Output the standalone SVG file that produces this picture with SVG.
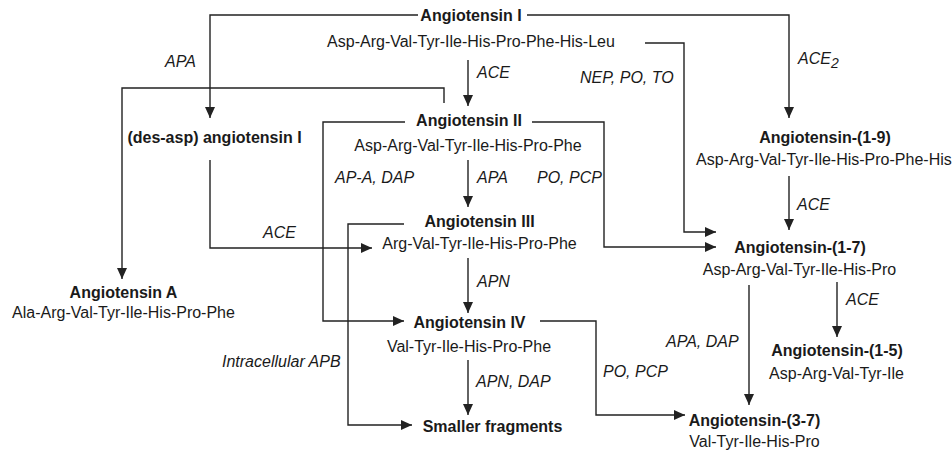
<svg xmlns="http://www.w3.org/2000/svg" width="952" height="454" viewBox="0 0 952 454">
<style>
text{font-family:"Liberation Sans",Arial,Helvetica,sans-serif;font-size:16px;fill:#1a1a1a}
.b{font-weight:bold;text-anchor:middle}
.s{text-anchor:middle}
.i{font-style:italic}
.c{fill:none;stroke:#222;stroke-width:1.4}
.a{marker-end:url(#ah)}
</style>
<defs>
<marker id="ah" markerUnits="userSpaceOnUse" markerWidth="11" markerHeight="10" refX="11" refY="5" orient="auto">
<path d="M0,0 L11,5 L0,10 z" fill="#222"/>
</marker>
</defs>
<rect width="952" height="454" fill="#fff"/>
<g id="connectors">
<path class="c a" d="M418,15 H210 V118"/>
<path class="c a" d="M527,15 H789 V118"/>
<path class="c a" d="M468,60 V106"/>
<path class="c a" d="M645,43 H684 V232 H716"/>
<path class="c a" d="M444,103 V88 H122 V279"/>
<path class="c a" d="M468,160 V207"/>
<path class="c a" d="M532,122 H604 V247 H716"/>
<path class="c a" d="M405,122 H323 V321 H404"/>
<path class="c a" d="M210,160 V248 H372"/>
<path class="c a" d="M468,258 V313"/>
<path class="c a" d="M404,224 H348 V425 H412"/>
<path class="c a" d="M468,360 V415"/>
<path class="c a" d="M540,321 H596 V415 H685"/>
<path class="c a" d="M789,176 V230"/>
<path class="c a" d="M837,282 V337"/>
<path class="c a" d="M749,285 V405"/>
</g>
<g id="labels">
<text class="i" x="165" y="67">APA</text>
<text class="i" x="477" y="78">ACE</text>
<text class="i" x="580" y="83">NEP, PO, TO</text>
<text class="i" x="798" y="64">ACE<tspan dy="4" font-size="14">2</tspan></text>
<text class="i" x="335" y="183">AP-A, DAP</text>
<text class="i" x="477" y="183">APA</text>
<text class="i" x="537" y="183">PO, PCP</text>
<text class="i" x="263" y="238">ACE</text>
<text class="i" x="477" y="287">APN</text>
<text class="i" x="222" y="367">Intracellular APB</text>
<text class="i" x="476" y="387">APN, DAP</text>
<text class="i" x="603" y="377">PO, PCP</text>
<text class="i" x="666" y="347">APA, DAP</text>
<text class="i" x="797" y="210">ACE</text>
<text class="i" x="846" y="305">ACE</text>
</g>
<g id="ang1"><text class="b" x="471" y="21">Angiotensin I</text><text class="s" x="471" y="47">Asp-Arg-Val-Tyr-Ile-His-Pro-Phe-His-Leu</text></g>
<g id="desasp"><text class="b" x="214.5" y="143">(des-asp) angiotensin I</text></g>
<g id="ang2"><text class="b" x="469" y="126">Angiotensin II</text><text class="s" x="468" y="151">Asp-Arg-Val-Tyr-Ile-His-Pro-Phe</text></g>
<g id="ang3"><text class="b" x="479.5" y="227">Angiotensin III</text><text class="s" x="479.5" y="249">Arg-Val-Tyr-Ile-His-Pro-Phe</text></g>
<g id="ang4"><text class="b" x="469.5" y="328">Angiotensin IV</text><text class="s" x="469" y="352">Val-Tyr-Ile-His-Pro-Phe</text></g>
<g id="fragments"><text class="b" x="492.5" y="432">Smaller fragments</text></g>
<g id="angA"><text class="b" x="123.5" y="298">Angiotensin A</text><text class="s" x="123.5" y="318">Ala-Arg-Val-Tyr-Ile-His-Pro-Phe</text></g>
<g id="ang19"><text class="b" x="825" y="143">Angiotensin-(1-9)</text><text x="696" y="165">Asp-Arg-Val-Tyr-Ile-His-Pro-Phe-His</text></g>
<g id="ang17"><text class="b" x="800" y="253">Angiotensin-(1-7)</text><text class="s" x="799.5" y="275">Asp-Arg-Val-Tyr-Ile-His-Pro</text></g>
<g id="ang15"><text class="b" x="837" y="356">Angiotensin-(1-5)</text><text class="s" x="836.5" y="379">Asp-Arg-Val-Tyr-Ile</text></g>
<g id="ang37"><text class="b" x="754.5" y="426">Angiotensin-(3-7)</text><text class="s" x="754.5" y="447">Val-Tyr-Ile-His-Pro</text></g>
</svg>
